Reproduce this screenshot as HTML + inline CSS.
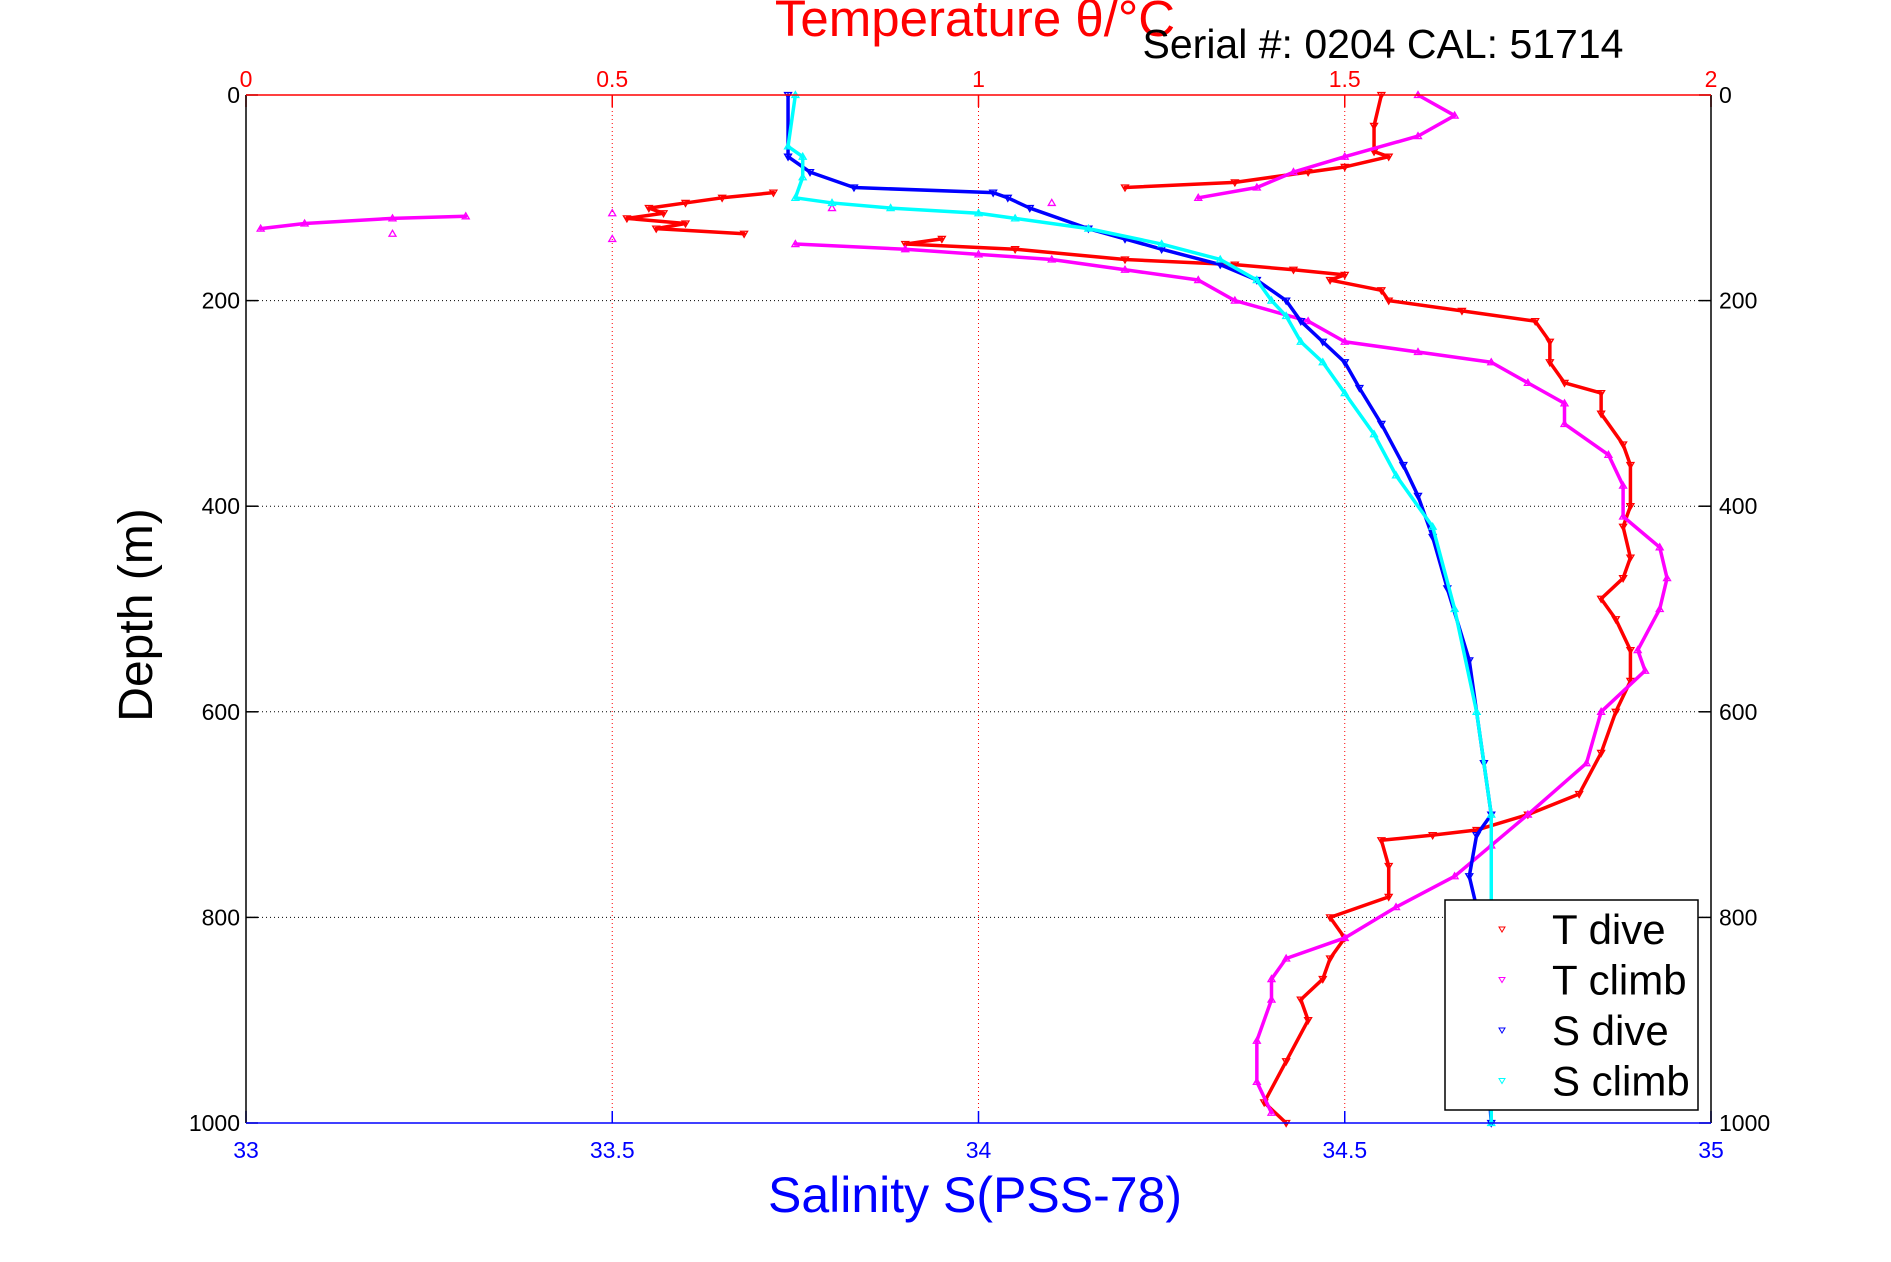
<!DOCTYPE html>
<html><head><meta charset="utf-8"><style>
html,body{margin:0;padding:0;background:#fff;width:1891px;height:1262px;overflow:hidden}
svg text{font-family:"Liberation Sans",sans-serif}
</style></head><body>
<svg id="chart" width="1891" height="1262" viewBox="0 0 1891 1262" xmlns="http://www.w3.org/2000/svg">
<g id="grid"></g>
<g id="series"></g>
<g id="axes"></g>
<text x="975" y="36" font-size="51" fill="#f00" text-anchor="middle">Temperature θ/°C</text>
<text x="1383" y="58" font-size="41" fill="#000" text-anchor="middle">Serial #: 0204  CAL: 51714</text>
<text x="975" y="1212" font-size="50" fill="#00f" text-anchor="middle">Salinity S(PSS-78)</text>
<text transform="translate(152,615) rotate(-90)" font-size="48" fill="#000" text-anchor="middle">Depth (m)</text>
<g>
<rect x="1445" y="900" width="253" height="210" fill="#fff" stroke="#000" stroke-width="1.5"/>
<g id="legend-items"></g>
</g>
</svg>
<script>
const depthTicks=[0,200,400,600,800,1000];
const salTicks=[33,33.5,34,34.5,35];
const salTickLabels=["33","33.5","34","34.5","35"];
const tempTicks=[0,0.5,1,1.5,2];
const tempTickLabels=["0","0.5","1","1.5","2"];
const seriesNames=["T dive","T climb","S dive","S climb"];

const tDiveDepth=[0,30,55,60,70,75,85,90,95,100,105,110,115,120,125,130,135,140,145,150,160,165,170,175,180,190,200,210,220,240,260,280,290,310,340,360,400,420,450,470,490,510,540,570,600,640,680,700,715,720,725,750,780,800,820,840,860,880,900,940,980,1000];
const tDiveT=[1.55,1.54,1.54,1.56,1.5,1.45,1.35,1.2,0.72,0.65,0.6,0.55,0.57,0.52,0.6,0.56,0.68,0.95,0.9,1.05,1.2,1.35,1.43,1.5,1.48,1.55,1.56,1.66,1.76,1.78,1.78,1.8,1.85,1.85,1.88,1.89,1.89,1.88,1.89,1.88,1.85,1.87,1.89,1.89,1.87,1.85,1.82,1.75,1.68,1.62,1.55,1.56,1.56,1.48,1.5,1.48,1.47,1.44,1.45,1.42,1.39,1.42];

const tClimbDepth=[0,20,40,60,75,90,100,105,110,115,118,120,125,130,135,140,145,150,155,160,170,180,200,220,240,250,260,280,300,320,350,380,410,440,470,500,540,560,600,650,700,730,760,790,820,840,860,880,920,960,990];
const tClimbT=[1.6,1.65,1.6,1.5,1.43,1.38,1.3,1.1,0.8,0.5,0.3,0.2,0.08,0.02,0.2,0.5,0.75,0.9,1.0,1.1,1.2,1.3,1.35,1.45,1.5,1.6,1.7,1.75,1.8,1.8,1.86,1.88,1.88,1.93,1.94,1.93,1.9,1.91,1.85,1.83,1.75,1.7,1.65,1.57,1.5,1.42,1.4,1.4,1.38,1.38,1.4];

const sDiveDepth=[0,60,75,90,95,100,110,130,140,150,165,180,200,220,240,260,285,320,360,390,430,480,550,650,700,720,760,790,1000];
const sDiveS=[33.74,33.74,33.77,33.83,34.02,34.04,34.07,34.15,34.2,34.25,34.33,34.38,34.42,34.44,34.47,34.5,34.52,34.55,34.58,34.6,34.62,34.64,34.67,34.69,34.7,34.68,34.67,34.68,34.7];

const sClimbDepth=[0,50,60,80,100,105,110,115,120,130,145,160,180,200,215,240,260,290,330,370,420,500,600,700,800,1000];
const sClimbS=[33.75,33.74,33.76,33.76,33.75,33.8,33.88,34.0,34.05,34.15,34.25,34.33,34.38,34.4,34.42,34.44,34.47,34.5,34.54,34.57,34.62,34.65,34.68,34.7,34.7,34.7];

const L=246,R=1711,T=95,B=1123;
const xS=s=>L+(s-33)/2*(R-L);
const xT=t=>L+t/2*(R-L);
const yD=d=>T+d/1000*(B-T);
const NS="http://www.w3.org/2000/svg";
function mk(tag,attrs,parent){const e=document.createElementNS(NS,tag);for(const k in attrs)e.setAttribute(k,attrs[k]);parent.appendChild(e);return e;}
const grid=document.getElementById('grid'),axes=document.getElementById('axes'),ser=document.getElementById('series');

tempTicks.forEach((t,i)=>{
  const x=xT(t);
  if(i>0&&i<tempTicks.length-1){const g=mk('line',{x1:x,y1:T,x2:x,y2:B,stroke:'#f00','stroke-width':1,'stroke-dasharray':'1 3'},grid);
  
  }
  const tk=mk('line',{x1:x,y1:T,x2:x,y2:T+12,stroke:'#f00','stroke-width':1.5},axes);
  
  
  const lb=mk('text',{x:x,y:T-8,'font-size':23,fill:'#f00','text-anchor':'middle'},axes);lb.textContent=tempTickLabels[i];
  
  
});
salTicks.forEach((s,i)=>{
  const x=xS(s);
  const tk=mk('line',{x1:x,y1:B,x2:x,y2:B-12,stroke:'#00f','stroke-width':1.5},axes);
  
  
  const lb=mk('text',{x:x,y:B+35,'font-size':23,fill:'#00f','text-anchor':'middle'},axes);lb.textContent=salTickLabels[i];
  
  
});
depthTicks.forEach(d=>{
  const y=yD(d);
  if(d>0&&d<1000){const g=mk('line',{x1:L,y1:y,x2:R,y2:y,stroke:'#000','stroke-width':1,'stroke-dasharray':'1 3'},grid);
  
  }
  mk('line',{x1:L,y1:y,x2:L+12,y2:y,stroke:'#000','stroke-width':1.5},axes);
  mk('line',{x1:R,y1:y,x2:R-12,y2:y,stroke:'#000','stroke-width':1.5},axes);
  const a=mk('text',{x:L-6,y:y+8,'font-size':23,fill:'#000','text-anchor':'end'},axes);a.textContent=d;
  
  
  const b=mk('text',{x:R+8,y:y+8,'font-size':23,fill:'#000','text-anchor':'start'},axes);b.textContent=d;
  
  
});
mk('line',{x1:L,y1:T,x2:L,y2:B,stroke:'#000','stroke-width':1.5},axes);
mk('line',{x1:R,y1:T,x2:R,y2:B,stroke:'#000','stroke-width':1.5},axes);
mk('line',{x1:L,y1:T,x2:R,y2:T,stroke:'#f00','stroke-width':1.5},axes);
mk('line',{x1:L,y1:B,x2:R,y2:B,stroke:'#00f','stroke-width':1.5},axes);

function drawSeries(depths,vals,xf,color,name,down,maxJump){
  const g=mk('g',{},ser);
  
  
  for(let i=1;i<depths.length;i++){
    const x1=xf(vals[i-1]),y1=yD(depths[i-1]),x2=xf(vals[i]),y2=yD(depths[i]);
    if(Math.abs(x2-x1)>maxJump)continue;
    mk('line',{x1:x1,y1:y1,x2:x2,y2:y2,stroke:color,'stroke-width':3.5,'stroke-linecap':'round'},g);
  }
  depths.forEach((d,i)=>{
    const x=xf(vals[i]),y=yD(d);
    const p=down?`${x-3.5},${y-2.5} ${x+3.5},${y-2.5} ${x},${y+3.5}`:`${x-3.5},${y+2.5} ${x+3.5},${y+2.5} ${x},${y-3.5}`;
    const m=mk('polygon',{points:p,fill:'none',stroke:color,'stroke-width':1.3},g);
    
    
  });
}
drawSeries(tDiveDepth,tDiveT,xT,'#f00','t-dive-series',true,130);
drawSeries(tClimbDepth,tClimbT,xT,'#f0f','t-climb-series',false,130);
drawSeries(sDiveDepth,sDiveS,xS,'#00f','s-dive-series',true,1000);
drawSeries(sClimbDepth,sClimbS,xS,'#0ff','s-climb-series',false,1000);

const li=document.getElementById('legend-items');
const lcol=['#f00','#f0f','#00f','#0ff'];
seriesNames.forEach((n,i)=>{
  const y=912+i*50.5;
  const m=mk('polygon',{points:`${1499},${y+15} ${1505},${y+15} ${1502},${y+20}`,fill:'none',stroke:lcol[i],'stroke-width':1},li);
  
  
  const t=mk('text',{x:1552,y:y+32,'font-size':42,fill:'#000'},li);t.textContent=n;
  
  
});
</script>
</body></html>
